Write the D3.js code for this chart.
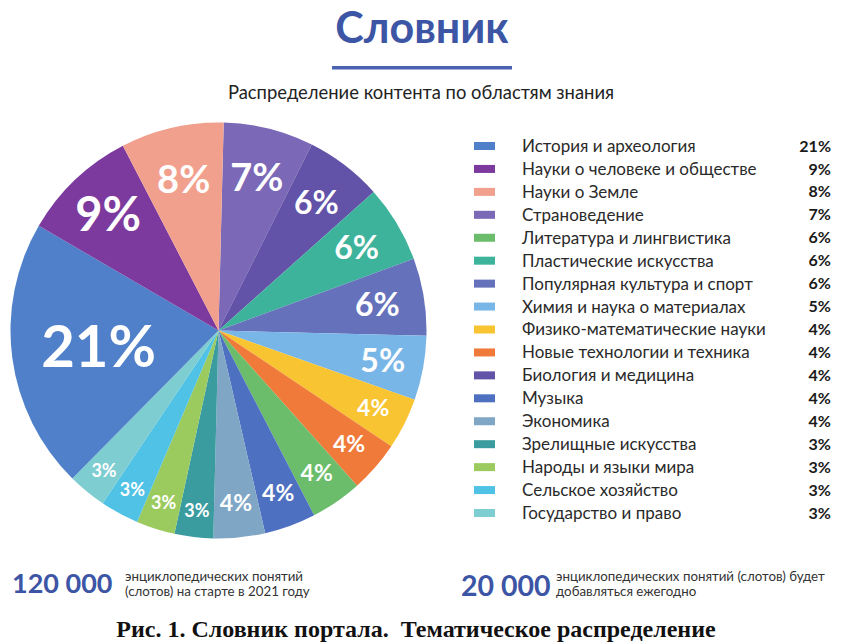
<!DOCTYPE html>
<html><head><meta charset="utf-8">
<script src="https://cdn.jsdelivr.net/npm/d3@7"></script>
<style>
html,body{margin:0;padding:0;background:#fff;}
svg{display:block;}
</style></head>
<body>
<svg id="chart" width="844" height="642"></svg>
<script>
// ---- Data ----
const title = "Словник";
const subtitle = "Распределение контента по областям знания";
const categories = [
  "История и археология","Науки о человеке и обществе","Науки о Земле","Страноведение",
  "Литература и лингвистика","Пластические искусства","Популярная культура и спорт",
  "Химия и наука о материалах","Физико-математические науки","Новые технологии и техника",
  "Биология и медицина","Музыка","Экономика","Зрелищные искусства","Народы и языки мира",
  "Сельское хозяйство","Государство и право"
];
const values = [21,9,8,7,6,6,6,5,4,4,4,4,4,3,3,3,3];
const colors = ["#4f80c9","#7c3a9e","#f2a08e","#7b68b7","#6bbd6b","#3db39b","#6571ba",
  "#79b6e8","#f9c431","#ef7a3a","#6252a8","#4e70c1","#7fa6c5","#3a9c9f","#9bcb5f","#4fc2e6","#7ecdd0"];
// Pie slices as drawn in the figure (clockwise from 12 o'clock)
const pieCategories = ["Страноведение","Биология и медицина","Пластические искусства",
  "Популярная культура и спорт","Химия и наука о материалах","Физико-математические науки",
  "Новые технологии и техника","Литература и лингвистика","Музыка","Экономика",
  "Зрелищные искусства","Народы и языки мира","Сельское хозяйство","Государство и право",
  "История и археология","Науки о человеке и обществе","Науки о Земле"];
const pieValues = [7,6,6,6,5,4,4,4,4,4,3,3,3,3,21,9,8];
const stat1 = {num:"120 000", lines:["энциклопедических понятий","(слотов) на старте в 2021 году"]};
const stat2 = {num:"20 000", lines:["энциклопедических понятий (слотов) будет","добавляться ежегодно"]};
const caption = "Рис. 1. Словник портала.  Тематическое распределение";

// ---- Drawing ----
const svg = d3.select("#chart");
const blue = "#3c55a5";
const sans = "Lato, 'Open Sans', sans-serif";
const color = d3.scaleOrdinal().domain(categories).range(colors);

svg.append("text").attr("x",422).attr("y",43).attr("text-anchor","middle")
  .attr("font-family",sans).attr("font-weight",700).attr("font-size",43)
  .attr("fill",blue).text(title);
svg.append("rect").attr("x",332).attr("y",66).attr("width",180).attr("height",3.5).attr("fill","#4a62b0");
svg.append("text").attr("x",421).attr("y",99).attr("text-anchor","middle")
  .attr("font-family",sans).attr("font-size",18.4).attr("fill","#222").text(subtitle);

// Pie
const cx = 218.5, cy = 330.5, R = 208;
const start = 0.025;
const pie = d3.pie().sort(null).value(d=>d.value).startAngle(start).endAngle(start+2*Math.PI);
const slices = pie(pieCategories.map((c,i)=>({cat:c, value:pieValues[i]})));
const arc = d3.arc().innerRadius(0).outerRadius(R);
const g = svg.append("g").attr("transform",`translate(${cx},${cy})`);
g.selectAll("path").data(slices).join("path")
  .attr("d",arc).attr("fill",d=>color(d.data.cat));

const fontSize = d3.scaleThreshold().domain([4,5,7,9,10]).range([18,23,32,38,47,58]);
const labelR = d3.scaleLinear().domain([3,4,6,8,9,21]).range([181,173,161,155,160,121]).clamp(true);
g.selectAll("text.lbl").data(slices).join("text").attr("class","lbl")
  .attr("transform",d=>{
    const a=(d.startAngle+d.endAngle)/2, r=labelR(d.value);
    return `translate(${Math.sin(a)*r},${-Math.cos(a)*r})`;})
  .attr("text-anchor","middle").attr("dy","0.36em")
  .attr("font-family",sans).attr("font-weight",700)
  .attr("font-size",d=>fontSize(d.value)).attr("fill","#fff")
  .text(d=>d.value+"%");

// Legend
const ly = d3.scalePoint().domain(categories).range([146,513]);
const leg = svg.append("g");
const rows = leg.selectAll("g").data(categories).join("g")
  .attr("transform",d=>`translate(0,${ly(d)})`);
rows.append("rect").attr("x",474).attr("y",-4).attr("width",21).attr("height",8)
  .attr("fill",d=>color(d));
rows.append("text").attr("x",522).attr("dy","0.35em")
  .attr("font-family",sans).attr("font-size",17).attr("fill","#2a2a2a").text(d=>d);
rows.append("text").attr("x",831).attr("dy","0.35em").attr("text-anchor","end")
  .attr("font-family",sans).attr("font-weight",700).attr("font-size",16).attr("fill","#1a1a1a")
  .text((d,i)=>values[i]+"%");

// Bottom stats
function stat(s,x,y,fs,numW){
  svg.append("text").attr("x",x).attr("y",y).attr("font-family",sans).attr("font-weight",700)
    .attr("font-size",fs).attr("fill",blue).text(s.num);
  s.lines.forEach((l,i)=>svg.append("text").attr("x",x+numW).attr("y",581+i*14.5)
    .attr("font-family",sans).attr("font-size",13.3).attr("fill","#333").text(l));
}
stat(stat1,12,593,27,113);
stat(stat2,461,596,28.5,95);

svg.append("text").attr("x",416).attr("y",637).attr("text-anchor","middle")
  .style("white-space","pre")
  .attr("font-family","'Liberation Serif','Times New Roman',serif").attr("font-weight",700)
  .attr("font-size",24).attr("fill","#111").text(caption);
</script>
</body></html>
